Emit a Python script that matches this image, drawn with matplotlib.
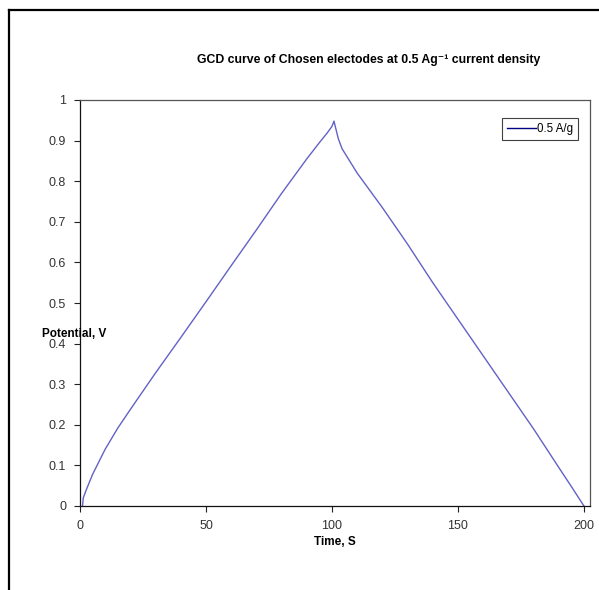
import matplotlib
import matplotlib.pyplot as plt
from matplotlib.lines import Line2D

matplotlib.use("Agg")

# charge / discharge curve
time_s = [1.0, 1.3, 2.5, 5, 10, 15, 20, 25, 30, 40, 50, 60, 70, 80, 90, 95, 98,
          100, 100.8, 101.5, 102.5, 104, 107, 110, 120, 130, 140, 150, 160, 170,
          180, 190, 195, 200]
potential_v = [0.0, 0.02, 0.04, 0.078, 0.14, 0.192, 0.238, 0.283, 0.328, 0.415, 0.503,
               0.592, 0.68, 0.77, 0.855, 0.895, 0.918, 0.935, 0.948, 0.93, 0.905, 0.88,
               0.85, 0.82, 0.735, 0.645, 0.55, 0.46, 0.37, 0.28, 0.19, 0.095, 0.048,
               0.0]
series_label = "0.5 A/g"
x_ticks = [0, 50, 100, 150, 200]
y_ticks = [0, 0.1, 0.2, 0.3, 0.4, 0.5, 0.6, 0.7, 0.8, 0.9, 1]
y_tick_labels = ["0", "0.1", "0.2", "0.3", "0.4", "0.5", "0.6", "0.7", "0.8", "0.9", "1"]

plt.rcParams["font.family"] = ["Liberation Sans", "DejaVu Sans"]

fig = plt.figure(figsize=(5.99, 5.90), dpi=100)
ax = fig.add_axes([80 / 599, 84 / 590, 510 / 599, 406 / 590])

ax.plot(time_s, potential_v, color="#6262c6", lw=1.0, label=series_label)

ax.set_xlim(0, 202.4)
ax.set_ylim(0, 1)
ax.set_xticks(x_ticks)
ax.set_yticks(y_ticks)
ax.set_yticklabels(y_tick_labels)
ax.tick_params(direction="out", length=4, width=0.8, colors="#222222",
               labelcolor="#333333", labelsize=9)
ax.tick_params(axis="x", pad=6)
ax.tick_params(axis="y", pad=6)
for side in ("top", "right"):
    ax.spines[side].set_color("#555555")
for side in ("left", "bottom"):
    ax.spines[side].set_color("#111111")
for sp in ax.spines.values():
    sp.set_linewidth(0.9)

ax.set_xlabel("Time, S", fontsize=8.5, fontweight="bold", labelpad=3)
fig.text(42 / 599, 1 - 334 / 590, "Potential, V", fontsize=8.5, fontweight="bold",
         va="center", ha="left")

fig.text(369 / 599, 1 - 60 / 590,
         "GCD curve of Chosen electodes at 0.5 Ag\u207b\u00b9 current density",
         fontsize=8.8, fontweight="bold", ha="center", va="center")

leg = ax.legend(loc="upper right", bbox_to_anchor=(578 / 599, 1 - 118 / 590),
                bbox_transform=fig.transFigure, fontsize=8.3, frameon=True,
                fancybox=False, edgecolor="#111111", handlelength=2.5,
                handletextpad=0.05, borderpad=0.45, borderaxespad=0)
leg.get_frame().set_linewidth(0.8)
leg.get_lines()[0].set_color("#000080")

# outer chart frame (only left and top edges fall inside the image)
fig.add_artist(Line2D([8.5 / 599, 8.5 / 599], [0, 1 - 9.5 / 590],
                      transform=fig.transFigure, color="black", lw=1.6))
fig.add_artist(Line2D([8.5 / 599, 1], [1 - 9.5 / 590, 1 - 9.5 / 590],
                      transform=fig.transFigure, color="black", lw=1.6))

fig.savefig("out.png", dpi=100)
